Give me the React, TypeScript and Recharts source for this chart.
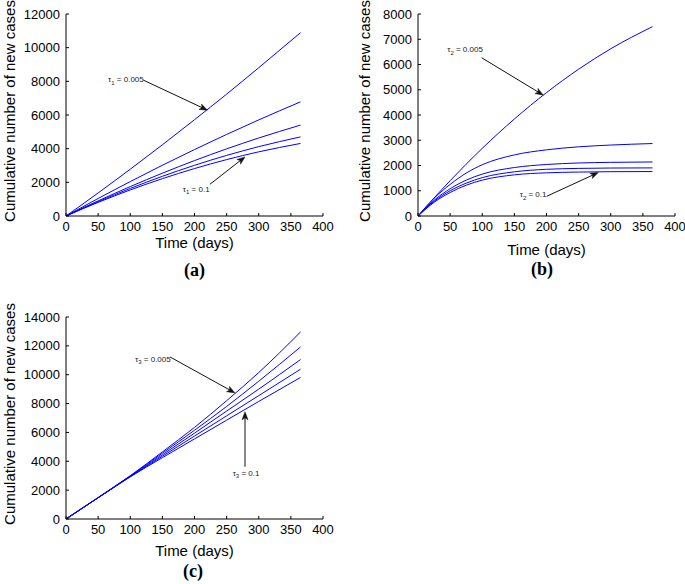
import React from 'react';
import { LineChart, Line, XAxis, YAxis, ReferenceLine, ReferenceDot } from 'recharts';

const SANS = '"Liberation Sans", Arial, Helvetica, sans-serif';
const SERIF = '"Liberation Serif", "Times New Roman", "DejaVu Serif", serif';

// ---------- Panel (a): varying tau_1 ----------
const timeA = [0, 25, 50, 75, 100, 150, 200, 250, 300, 365];
const casesA1 = [0, 680, 1370, 2070, 2780, 4230, 5720, 7240, 8810, 10890];
const casesA2 = [0, 524, 1040, 1547, 2044, 3014, 3948, 4846, 5710, 6780];
const casesA3 = [0, 456, 898, 1329, 1747, 2544, 3292, 3988, 4635, 5400];
const casesA4 = [0, 434, 852, 1253, 1638, 2358, 3012, 3599, 4121, 4700];
const casesA5 = [0, 413, 809, 1187, 1548, 2218, 2819, 3350, 3813, 4310];

// ---------- Panel (b): varying tau_2 ----------
const timeB = [0, 25, 50, 75, 100, 150, 200, 250, 300, 365];
const casesB1 = [0, 714, 1398, 2053, 2679, 3841, 4887, 5814, 6624, 7500];
const casesB2 = [0, 700, 1250, 1700, 2030, 2420, 2620, 2740, 2810, 2870];
const casesB3 = [0, 620, 1080, 1420, 1660, 1920, 2040, 2100, 2125, 2140];
const casesB4 = [0, 580, 1000, 1300, 1520, 1750, 1850, 1885, 1900, 1905];
const casesB5 = [0, 540, 930, 1220, 1420, 1630, 1710, 1740, 1755, 1760];

// ---------- Panel (c): varying tau_3 ----------
const timeC = [0, 50, 100, 150, 200, 250, 300, 365];
const casesC1 = [0, 1485, 3000, 4650, 6350, 8200, 10150, 12960];
const casesC2 = [0, 1480, 2980, 4560, 6150, 7800, 9550, 11920];
const casesC3 = [0, 1480, 2960, 4450, 5950, 7480, 9000, 11050];
const casesC4 = [0, 1475, 2940, 4350, 5750, 7150, 8550, 10380];
const casesC5 = [0, 1470, 2920, 4250, 5550, 6850, 8150, 9810];

// ---------- Ticks ----------
const xTicks = [0, 50, 100, 150, 200, 250, 300, 350, 400];
const yTicksA = [0, 2000, 4000, 6000, 8000, 10000, 12000];
const yTicksB = [0, 1000, 2000, 3000, 4000, 5000, 6000, 7000, 8000];
const yTicksC = [0, 2000, 4000, 6000, 8000, 10000, 12000, 14000];

const xTitle = 'Time (days)';
const yTitle = 'Cumulative number of new cases';

// ---------- Annotations (data coordinates) ----------
type Ann = { sub: string; val: string; tx: number; ty: number; anchor: 'start' | 'middle' | 'end'; x1: number; y1: number; x2: number; y2: number };
const annA: Ann[] = [
  { sub: '1', val: '0.005', tx: 121, ty: 8115, anchor: 'end', x1: 120.3, y1: 8073, x2: 220.2, y2: 6288 },
  { sub: '1', val: '0.1', tx: 223.5, ty: 1618, anchor: 'end', x1: 224.1, y1: 1886, x2: 278.6, y2: 3510 },
];
const annB: Ann[] = [
  { sub: '2', val: '0.005', tx: 101, ty: 6600, anchor: 'end', x1: 99.1, y1: 6267, x2: 195, y2: 4787 },
  { sub: '2', val: '0.1', tx: 200, ty: 861, anchor: 'end', x1: 200.3, y1: 781, x2: 280.6, y2: 1721 },
];
const annC: Ann[] = [
  { sub: '3', val: '0.005', tx: 163, ty: 11121, anchor: 'end', x1: 161.9, y1: 11232, x2: 263, y2: 8741 },
  { sub: '3', val: '0.1', tx: 280.2, ty: 3204, anchor: 'middle', x1: 278.6, y1: 3619, x2: 278.6, y2: 7426 },
];

function buildRows(time: number[], series: number[][]) {
  return time.map((t, i) => {
    const row: Record<string, number> = { t };
    series.forEach((s, k) => {
      row['s' + (k + 1)] = s[i];
    });
    return row;
  });
}

const ArrowShape = (props: any) => {
  const { x1, y1, x2, y2 } = props;
  if ([x1, y1, x2, y2].some((v) => typeof v !== 'number' || isNaN(v))) return <g />;
  const ang = Math.atan2(y2 - y1, x2 - x1);
  const L = 8;
  const W = 3;
  const bx = x2 - L * Math.cos(ang);
  const by = y2 - L * Math.sin(ang);
  const nx = -Math.sin(ang);
  const ny = Math.cos(ang);
  const pts = `${x2},${y2} ${bx + W * nx},${by + W * ny} ${x2 - (L - 2) * Math.cos(ang)},${y2 - (L - 2) * Math.sin(ang)} ${bx - W * nx},${by - W * ny}`;
  return (
    <g>
      <line x1={x1} y1={y1} x2={x2 - 3 * Math.cos(ang)} y2={y2 - 3 * Math.sin(ang)} stroke="#111" strokeWidth={1} />
      <polygon points={pts} fill="#111" stroke="#111" strokeWidth={0.5} />
    </g>
  );
};

const makeTauText = (a: Ann) => (props: any) => {
  const { cx, cy } = props;
  if (typeof cx !== 'number' || typeof cy !== 'number') return <g />;
  return (
    <text x={cx} y={cy + 3} fontSize={8} fontFamily={SANS} fill="#222" textAnchor={a.anchor}>
      τ
      <tspan dy={2.5} fontSize={6}>{a.sub}</tspan>
      <tspan dy={-2.5}>{' = ' + a.val}</tspan>
    </text>
  );
};

const makeXLabel = (titleDy: number, letter: string, letterDy: number, letterDx: number) => (props: any) => {
  const vb = props.viewBox || {};
  const cx = vb.x + vb.width / 2;
  return (
    <g>
      <text x={cx} y={vb.y + titleDy} textAnchor="middle" fontSize={15} fontFamily={SANS} fill="#000">
        {xTitle}
      </text>
      <text
        x={cx + letterDx}
        y={vb.y + letterDy}
        textAnchor="middle"
        fill="#000"
        style={{ fontFamily: SERIF, fontWeight: 'bold', fontSize: 18 }}
      >
        {letter}
      </text>
    </g>
  );
};

const makeYLabel = (baseX: number, dyCenter: number) => (props: any) => {
  const vb = props.viewBox || {};
  const x = vb.x + baseX;
  const y = vb.y + vb.height / 2 + dyCenter;
  return (
    <text x={x} y={y} transform={`rotate(-90 ${x} ${y})`} textAnchor="middle" fontSize={15} fontFamily={SANS} fill="#000">
      {yTitle}
    </text>
  );
};

type PanelProps = {
  left: number;
  top: number;
  width: number;
  height: number;
  margin: { top: number; right: number; bottom: number; left: number };
  yAxisWidth: number;
  xAxisHeight: number;
  rows: Record<string, number>[];
  yTicks: number[];
  ann: Ann[];
  letter: string;
  xTitleDy: number;
  letterDy: number;
  letterDx: number;
  yTitleX: number;
};

const tickStyle = { fill: '#000', fontSize: 13, fontFamily: SANS };

function Panel(p: PanelProps) {
  const yMax = p.yTicks[p.yTicks.length - 1];
  return (
    <div style={{ position: 'absolute', left: p.left, top: p.top, width: p.width, height: p.height }}>
      <LineChart width={p.width} height={p.height} data={p.rows} margin={p.margin}>
        <XAxis
          dataKey="t"
          type="number"
          domain={[0, 400]}
          ticks={xTicks}
          interval={0}
          height={p.xAxisHeight}
          tickSize={-3}
          tickMargin={9}
          tick={tickStyle}
          axisLine={{ stroke: '#000' }}
          tickLine={{ stroke: '#000' }}
          allowDataOverflow
          label={makeXLabel(p.xTitleDy, p.letter, p.letterDy, p.letterDx)}
        />
        <XAxis
          xAxisId="top"
          orientation="top"
          dataKey="t"
          type="number"
          domain={[0, 400]}
          ticks={xTicks}
          interval={0}
          height={0}
          tickSize={-3}
          tick={false}
          axisLine={{ stroke: '#000' }}
          tickLine={{ stroke: '#000' }}
          allowDataOverflow
        />
        <YAxis
          type="number"
          domain={[0, yMax]}
          ticks={p.yTicks}
          interval={0}
          width={p.yAxisWidth}
          tickSize={-3}
          tickMargin={9}
          tick={tickStyle}
          axisLine={{ stroke: '#000' }}
          tickLine={{ stroke: '#000' }}
          allowDataOverflow
          label={makeYLabel(p.yTitleX, -4)}
        />
        <YAxis
          yAxisId="right"
          orientation="right"
          type="number"
          domain={[0, yMax]}
          ticks={p.yTicks}
          interval={0}
          width={0}
          tickSize={-3}
          tick={false}
          axisLine={{ stroke: '#000' }}
          tickLine={{ stroke: '#000' }}
          allowDataOverflow
        />
        {['s1', 's2', 's3', 's4', 's5'].map((k) => (
          <Line
            key={k}
            dataKey={k}
            type="monotone"
            stroke="#0000ff"
            strokeWidth={1}
            dot={false}
            activeDot={false}
            isAnimationActive={false}
          />
        ))}
        {p.ann.map((a, i) => (
          <ReferenceLine
            key={'arr' + i}
            segment={[{ x: a.x1, y: a.y1 }, { x: a.x2, y: a.y2 }]}
            shape={ArrowShape}
            ifOverflow="visible"
          />
        ))}
        {p.ann.map((a, i) => (
          <ReferenceDot key={'txt' + i} x={a.tx} y={a.ty} r={1} shape={makeTauText(a)} ifOverflow="visible" />
        ))}
      </LineChart>
    </div>
  );
}

const rowsA = buildRows(timeA, [casesA1, casesA2, casesA3, casesA4, casesA5]);
const rowsB = buildRows(timeB, [casesB1, casesB2, casesB3, casesB4, casesB5]);
const rowsC = buildRows(timeC, [casesC1, casesC2, casesC3, casesC4, casesC5]);

export default function App() {
  return (
    <div style={{ position: 'absolute', left: 0, top: 0, width: 685, height: 584, background: '#fff' }}>
      <Panel
        left={0}
        top={0}
        width={340}
        height={280}
        margin={{ top: 14, right: 17, bottom: 0, left: 0 }}
        yAxisWidth={66}
        xAxisHeight={64}
        rows={rowsA}
        yTicks={yTicksA}
        ann={annA}
        letter="(a)"
        xTitleDy={32}
        letterDy={60}
        letterDx={0}
        yTitleX={15}
      />
      <Panel
        left={345}
        top={0}
        width={340}
        height={280}
        margin={{ top: 14, right: 10, bottom: 0, left: 0 }}
        yAxisWidth={73}
        xAxisHeight={64}
        rows={rowsB}
        yTicks={yTicksB}
        ann={annB}
        letter="(b)"
        xTitleDy={38.5}
        letterDy={59}
        letterDx={-4.5}
        yTitleX={25}
      />
      <Panel
        left={0}
        top={300}
        width={340}
        height={284}
        margin={{ top: 17, right: 17, bottom: 0, left: 0 }}
        yAxisWidth={66}
        xAxisHeight={65}
        rows={rowsC}
        yTicks={yTicksC}
        ann={annC}
        letter="(c)"
        xTitleDy={36.5}
        letterDy={58}
        letterDx={-1.5}
        yTitleX={15}
      />
    </div>
  );
}
